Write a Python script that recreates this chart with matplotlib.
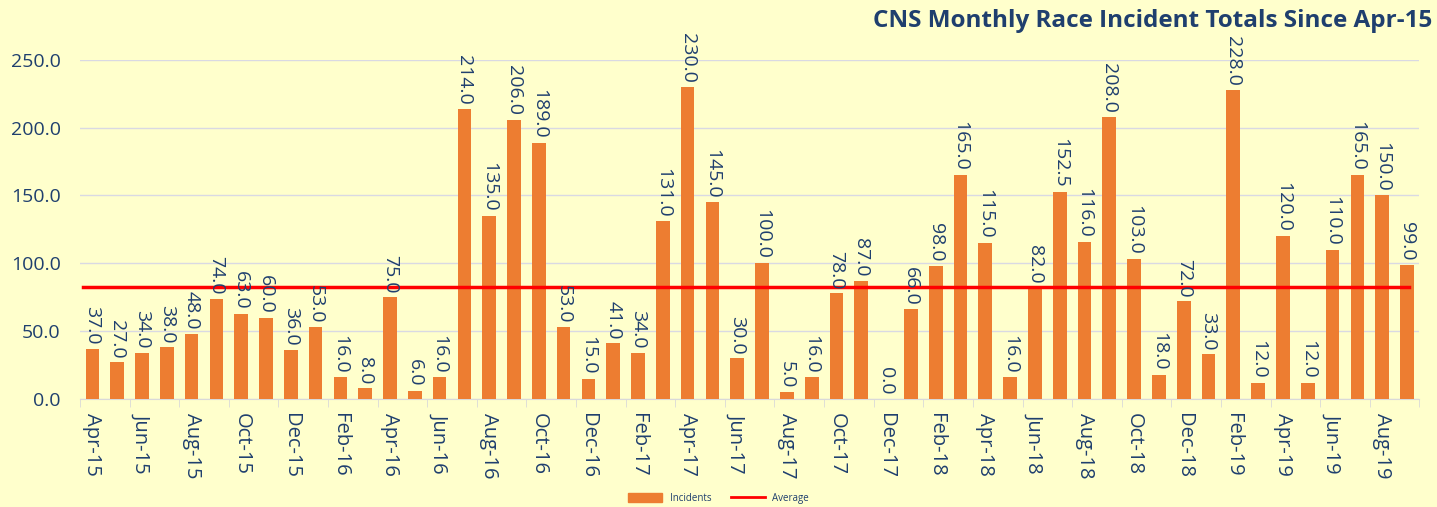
import numpy as np
import matplotlib.pyplot as plt
from matplotlib.lines import Line2D
from matplotlib.patches import Patch

# monthly incident totals, Apr-15 .. Sep-19
months = ["Apr-15", "May-15", "Jun-15", "Jul-15", "Aug-15", "Sep-15", "Oct-15", "Nov-15", "Dec-15",
          "Jan-16", "Feb-16", "Mar-16", "Apr-16", "May-16", "Jun-16", "Jul-16", "Aug-16", "Sep-16",
          "Oct-16", "Nov-16", "Dec-16", "Jan-17", "Feb-17", "Mar-17", "Apr-17", "May-17", "Jun-17",
          "Jul-17", "Aug-17", "Sep-17", "Oct-17", "Nov-17", "Dec-17", "Jan-18", "Feb-18", "Mar-18",
          "Apr-18", "May-18", "Jun-18", "Jul-18", "Aug-18", "Sep-18", "Oct-18", "Nov-18", "Dec-18",
          "Jan-19", "Feb-19", "Mar-19", "Apr-19", "May-19", "Jun-19", "Jul-19", "Aug-19", "Sep-19"]
incidents = [37, 27, 34, 38, 48, 74, 63, 60, 36,
             53, 16, 8, 75, 6, 16, 214, 135, 206,
             189, 53, 15, 41, 34, 131, 230, 145, 30,
             100, 5, 16, 78, 87, 0, 66, 98, 165,
             115, 16, 82, 152.5, 116, 208, 103, 18, 72,
             33, 228, 12, 120, 12, 110, 165, 150, 99]

BG = "#FFFFCC"
NAVY = "#1F3F6E"
ORANGE = "#ED7D31"

plt.rcParams["font.family"] = ["Open Sans", "DejaVu Sans"]

fig = plt.figure(figsize=(14.37, 5.07), dpi=100, facecolor=BG)
ax = fig.add_axes([0.0557, 0.213, 0.932, 0.669])
ax.set_facecolor(BG)

x = np.arange(len(months))
avg = np.mean(incidents)
ax.bar(x, incidents, width=0.55, color=ORANGE, zorder=3)
ax.plot([x[0] - 0.4, x[-1] + 0.1], [avg, avg], color="#FF0000", lw=2.5, zorder=4)

for xi, v in zip(x, incidents):
    ax.text(xi, v + 3, "%.1f" % v, rotation=-90, ha="center", va="bottom",
            fontsize=14, color=NAVY, zorder=5)

ax.set_xlim(-0.5, len(months) - 0.5)
ax.set_ylim(0, 250)
ax.set_yticks(np.arange(0, 251, 50))
ax.set_yticklabels(["%.1f" % t for t in np.arange(0, 251, 50)], fontsize=14, color=NAVY)
ax.set_xticks(x[::2])
ax.set_xticklabels(months[::2], rotation=-90, fontsize=14.5, color=NAVY)
ax.set_xticks(np.arange(-0.5, len(months), 2), minor=True)
ax.tick_params(axis="x", which="major", length=0, pad=10)
ax.tick_params(axis="x", which="minor", length=6, color="#D9D9D9")
ax.tick_params(axis="y", length=0, pad=14)
ax.grid(axis="y", color="#D9D9E3", lw=1, zorder=0)
for s in ["top", "right", "left"]:
    ax.spines[s].set_visible(False)
ax.spines["bottom"].set_color("#D9D9D9")

fig.text(0.997, 0.958, "CNS Monthly Race Incident Totals Since Apr-15", ha="right", va="center",
         fontsize=17.5, fontweight="bold", color=NAVY)

handles = [Patch(color=ORANGE, label="Incidents"),
           Line2D([0], [0], color="#FF0000", lw=2, label="Average")]
fig.legend(handles=handles, loc="center", bbox_to_anchor=(0.5, 0.017), ncol=2, frameon=False,
           fontsize=7, labelcolor=NAVY, handlelength=3.5, handleheight=0.9, columnspacing=2)

fig.savefig("out.png", dpi=100, facecolor=BG)
